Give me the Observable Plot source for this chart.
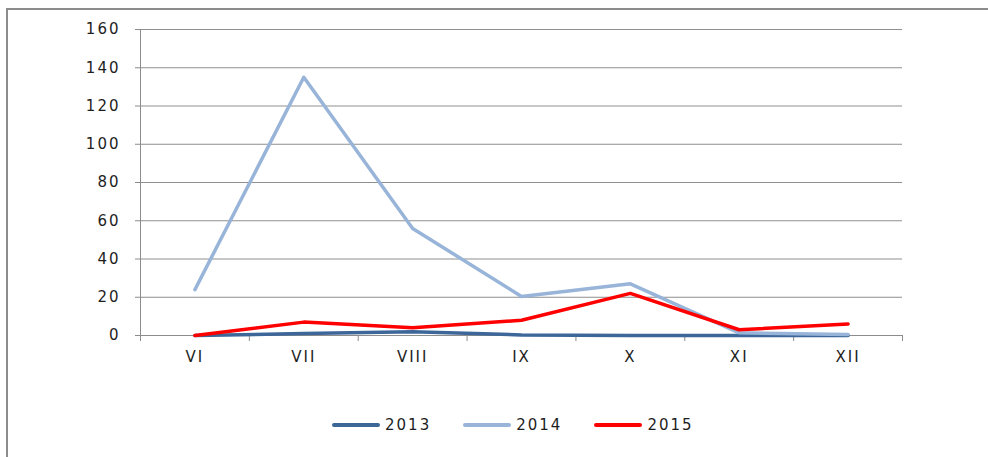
<!DOCTYPE html>
<html>
<head>
<meta charset="utf-8">
<script src="https://cdn.jsdelivr.net/npm/d3@7"></script>
<script src="https://cdn.jsdelivr.net/npm/@observablehq/plot@0.6"></script>
<style>
  html, body { margin: 0; padding: 0; background: #fff; }
  #wrap { position: relative; width: 988px; height: 457px; overflow: hidden; font-family: "DejaVu Sans", sans-serif; }
  #frame { position: absolute; left: 6px; top: 8px; width: 1200px; height: 800px;
           border-top: 2px solid #8c8c8c; border-left: 2px solid #8c8c8c; box-sizing: border-box; }
  #chart { position: absolute; left: 0; top: 0; }
  #legend { position: absolute; left: 332px; top: 416px; display: flex; align-items: center;
            font-size: 15px; letter-spacing: 2px; color: #1e1e1e; }
  .item { display: flex; align-items: center; margin-right: 32px; }
  .sw { width: 48px; height: 4px; border-radius: 2px; margin-right: 5px; }
</style>
</head>
<body>
<div id="wrap">
  <div id="frame"></div>
  <div id="chart"></div>
  <div id="legend"></div>
</div>
<script>
const months = ["VI", "VII", "VIII", "IX", "X", "XI", "XII"];
const years = ["2013", "2014", "2015"];
const colors = ["#3d6699", "#98b4d8", "#ff0000"];
const v2013 = [0, 1, 2, 0.3, 0, 0, 0];
const v2014 = [24, 135, 56, 20.4, 27, 1.4, 0.5];
const v2015 = [0, 7, 4, 8, 22, 3, 6];
const yTicks = [0, 20, 40, 60, 80, 100, 120, 140, 160];

const series = [v2013, v2014, v2015];
const rows = [];
series.forEach((vals, s) => vals.forEach((v, i) => rows.push({year: years[s], i, value: v})));

const xDomain = [-0.5, months.length - 0.5];
const boundaries = d3.range(months.length + 1).map(k => k - 0.5);
const centers = d3.range(months.length);

const chart = Plot.plot({
  width: 988,
  height: 457,
  marginTop: 29,
  marginBottom: 122,
  marginLeft: 140,
  marginRight: 86,
  style: {fontFamily: "DejaVu Sans, sans-serif", fontSize: "15px", letterSpacing: "2px", color: "#1e1e1e", background: "transparent"},
  x: {type: "linear", domain: xDomain},
  y: {domain: [0, 160]},
  color: {domain: years, range: colors},
  marks: [
    Plot.gridY(yTicks.slice(1), {stroke: "#8f8f8f", strokeOpacity: 1, strokeWidth: 1}),
    Plot.axisY(yTicks, {tickSize: 5, tickPadding: 15, stroke: "#8c8c8c", fill: "#1e1e1e", label: null, fontSize: 15}),
    Plot.ruleX([xDomain[0]], {stroke: "#8c8c8c", strokeWidth: 1}),
    Plot.ruleY([0], {stroke: "#8c8c8c", strokeWidth: 1}),
    Plot.axisX(boundaries, {tickSize: 6, tickFormat: () => "", stroke: "#8c8c8c", label: null}),
    Plot.axisX(centers, {tickSize: 0, tickPadding: 16, tickFormat: i => months[i], fill: "#1e1e1e", label: null, fontSize: 15}),
    Plot.line(rows, {x: "i", y: "value", z: "year", stroke: "year", strokeWidth: 3.5,
                     strokeLinejoin: "round", strokeLinecap: "round"})
  ]
});
document.getElementById("chart").appendChild(chart);

const legend = document.getElementById("legend");
years.forEach((y, k) => {
  const it = document.createElement("div");
  it.className = "item";
  const sw = document.createElement("div");
  sw.className = "sw";
  sw.style.background = colors[k];
  const t = document.createElement("span");
  t.textContent = y;
  it.appendChild(sw);
  it.appendChild(t);
  legend.appendChild(it);
});
</script>
</body>
</html>
